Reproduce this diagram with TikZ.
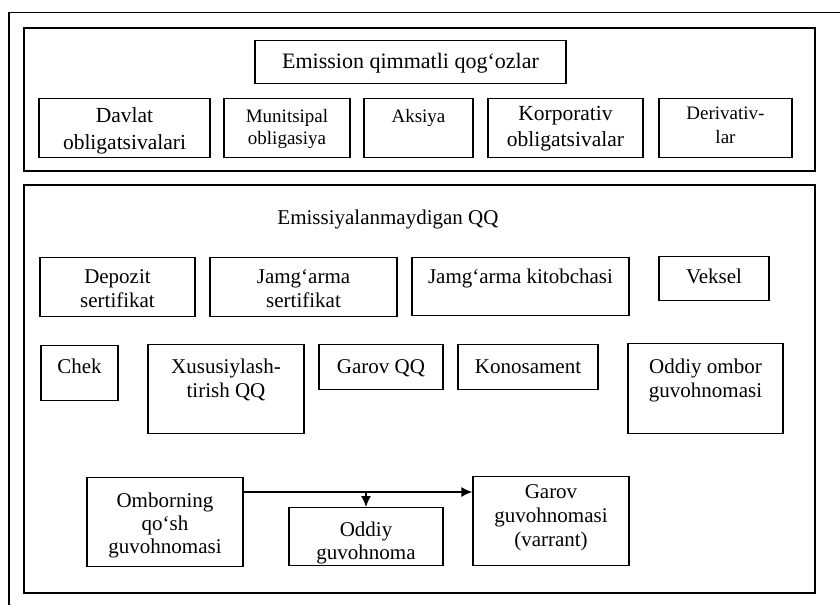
\documentclass[tikz,border=0pt]{standalone}
\usepackage{fontspec}
\setmainfont{Liberation Serif}
\usetikzlibrary{arrows.meta}
\newcommand{\mlines}[1]{\begin{tabular}[t]{@{}c@{}}#1\end{tabular}}
\begin{document}
\begin{tikzpicture}[x=1pt,y=-1pt,
  bx/.style={draw, line width=1.3pt, inner sep=0pt, anchor=north},
  fr/.style={draw, line width=1.3pt, inner sep=0pt},
  ttl/.style={font=\fontsize{22}{26}\selectfont},
  big/.style={font=\fontsize{21.5}{26.5}\selectfont},
  med/.style={font=\fontsize{21}{24}\selectfont},
  medb/.style={font=\fontsize{21}{22.7}\selectfont},
  sm/.style={font=\fontsize{19}{22}\selectfont},
  smd/.style={font=\fontsize{19}{24}\selectfont},
  arr/.style={line width=1.3pt, -{Latex[length=11pt,width=10pt]}}]
\useasboundingbox (0,0) rectangle (840,605);
% outer frame (only top and left edges visible)
\coordinate (otr) at (840,12.5);
\coordinate (otl) at (9,12.5);
\coordinate (obl) at (9,605);
\draw[line width=1.1pt] (otr) -- (otl) -- (obl);
% inner frames
\node[fr, minimum width=791pt, minimum height=143pt] (emframe) at (419.5,99.5) {};
\node[fr, minimum width=791pt, minimum height=408pt] (neframe) at (419.5,389) {};
% emission block
\node[bx, ttl, minimum width=311pt, text height=28pt, text depth=15pt] (title) at (410.5,40) {Emission qimmatli qog‘ozlar};
\node[bx, big, minimum width=171pt, text height=24pt, text depth=35pt] (davlat) at (124.5,98) {\mlines{Davlat\\obligatsivalari}};
\node[bx, sm, minimum width=126pt, text height=23.5pt, text depth=35.5pt] (munits) at (287,98) {\mlines{Munitsipal\\obligasiya}};
\node[bx, sm, minimum width=109pt, text height=23.5pt, text depth=35.5pt] (aksiya) at (418.5,98) {Aksiya};
\node[bx, big, minimum width=155pt, text height=21.5pt, text depth=37.5pt] (korp) at (565.5,98) {\mlines{Korporativ\\obligatsivalar}};
\node[bx, smd, minimum width=133pt, text height=21pt, text depth=38pt] (deriv) at (725.5,98) {\mlines{Derivativ-\\lar}};
% non-emission block
\node[med, anchor=base, inner sep=0pt] (netitle) at (388,224) {Emissiyalanmaydigan QQ};
\node[bx, med, minimum width=155pt, text height=26pt, text depth=33pt] (depozit) at (117.5,257) {\mlines{Depozit\\sertifikat}};
\node[bx, med, minimum width=187pt, text height=26pt, text depth=33pt] (jsert) at (303.5,257) {\mlines{Jamg‘arma\\sertifikat}};
\node[bx, med, minimum width=217pt, text height=26pt, text depth=32pt] (jkit) at (520.5,257) {Jamg‘arma kitobchasi};
\node[bx, med, minimum width=110pt, text height=27pt, text depth=17pt] (veksel) at (714,256) {Veksel};
\node[bx, med, minimum width=77pt, text height=28pt, text depth=27pt] (chek) at (79.5,345) {Chek};
\node[bx, med, minimum width=156pt, text height=29pt, text depth=60pt] (xusus) at (226,344) {\mlines{Xususiylash-\\tirish QQ}};
\node[bx, med, minimum width=124pt, text height=29pt, text depth=16pt] (garovqq) at (381,344) {Garov QQ};
\node[bx, med, minimum width=140pt, text height=29pt, text depth=16pt] (konos) at (528,344) {Konosament};
\node[bx, med, minimum width=155pt, text height=30pt, text depth=60pt] (oddomb) at (705.5,343) {\mlines{Oddiy ombor\\guvohnomasi}};
\node[bx, medb, minimum width=156pt, text height=30pt, text depth=59pt] (ombq) at (165,477) {\mlines{Omborning\\qo‘sh\\guvohnomasi}};
\node[bx, medb, minimum width=154pt, text height=29pt, text depth=29pt] (oddg) at (366,507) {\mlines{Oddiy\\guvohnoma}};
\node[bx, med, minimum width=156pt, text height=22pt, text depth=67pt] (garg) at (551,476) {\mlines{Garov\\guvohnomasi\\(varrant)}};
% connectors
\coordinate (split) at (366,492);
\draw[arr] (split -| ombq.east) -- (split -| garg.west);
\draw[arr] (split) -- (oddg.north);
\end{tikzpicture}
\end{document}
